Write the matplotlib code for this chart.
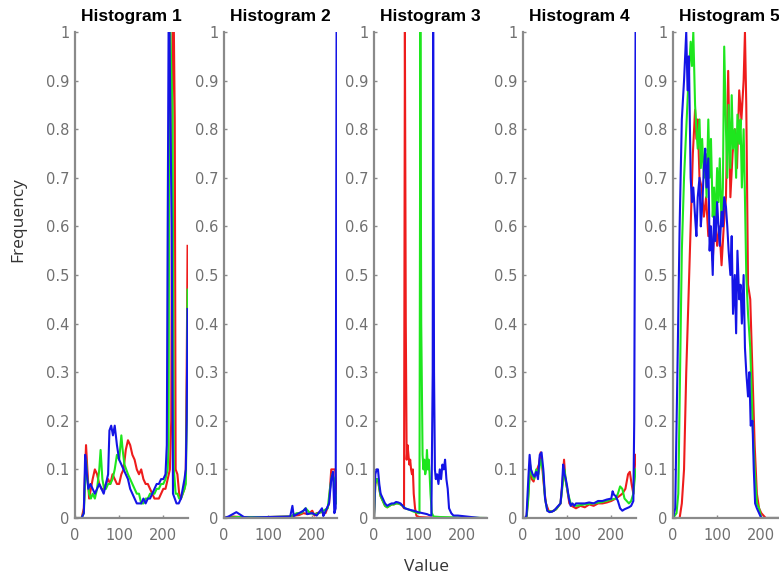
#! /usr/bin/env python3
import matplotlib
matplotlib.use("Agg")
import matplotlib.pyplot as plt

plt.rcParams['font.family'] = 'DejaVu Sans'

# ---- Histogram 1 ----
h1_r_x = [0, 15, 20, 25, 28, 32, 36, 40, 45, 50, 55, 60, 65, 70, 75, 80, 85, 90, 95, 100,
          105, 110, 115, 120, 125, 130, 135, 140, 145, 150, 155, 160, 165, 170, 175, 180, 185, 190, 195, 200,
          205, 210, 215, 218, 221, 224, 226, 228, 232, 236, 240, 244, 248, 251, 253, 255]
h1_r = [0, 0, 0.02, 0.15, 0.1, 0.04, 0.06, 0.08, 0.1, 0.09, 0.07, 0.06, 0.06, 0.07, 0.08, 0.07, 0.09, 0.08, 0.07, 0.07,
        0.09, 0.1, 0.14, 0.16, 0.15, 0.13, 0.12, 0.1, 0.09, 0.1, 0.08, 0.07, 0.07, 0.06, 0.05, 0.04, 0.04, 0.04, 0.05, 0.06,
        0.06, 0.08, 0.1, 0.2, 1.0, 1.0, 0.82, 0.1, 0.09, 0.05, 0.04, 0.05, 0.06, 0.1, 0.3, 0.56]
h1_g_x = [0, 15, 20, 25, 28, 32, 36, 40, 45, 50, 55, 58, 62, 66, 70, 75, 80, 85, 90, 95,
          100, 105, 108, 112, 116, 120, 125, 130, 135, 140, 145, 150, 155, 160, 165, 170, 175, 180, 185, 190,
          195, 200, 205, 210, 212, 214, 216, 218, 221, 224, 228, 232, 236, 240, 244, 248, 251, 253, 255]
h1_g = [0, 0, 0.01, 0.12, 0.08, 0.05, 0.04, 0.05, 0.04, 0.06, 0.1, 0.14, 0.08, 0.06, 0.06, 0.07, 0.07, 0.08, 0.1, 0.13,
        0.12, 0.17, 0.14, 0.11, 0.1, 0.09, 0.08, 0.07, 0.06, 0.05, 0.05, 0.03, 0.03, 0.04, 0.04, 0.05, 0.05, 0.05, 0.06, 0.06,
        0.07, 0.07, 0.08, 0.1, 0.15, 1.0, 1.0, 0.93, 0.84, 0.1, 0.05, 0.05, 0.04, 0.04, 0.05, 0.06, 0.07, 0.2, 0.47]
h1_b_x = [0, 15, 20, 23, 26, 30, 35, 40, 45, 50, 55, 60, 65, 70, 75, 78, 82, 86, 90, 95,
          100, 105, 110, 115, 120, 125, 130, 135, 140, 145, 150, 155, 160, 165, 170, 175, 180, 185, 190, 195,
          200, 205, 208, 210, 212, 214, 216, 219, 222, 226, 230, 235, 240, 244, 248, 251, 253, 255]
h1_b = [0, 0, 0.01, 0.13, 0.1, 0.06, 0.07, 0.06, 0.05, 0.06, 0.07, 0.06, 0.05, 0.07, 0.09, 0.18, 0.19, 0.17, 0.19, 0.15,
        0.12, 0.11, 0.1, 0.09, 0.08, 0.06, 0.05, 0.04, 0.03, 0.03, 0.03, 0.04, 0.03, 0.04, 0.04, 0.05, 0.06, 0.07, 0.07, 0.08,
        0.08, 0.09, 0.15, 0.6, 1.0, 1.0, 0.84, 0.6, 0.05, 0.04, 0.03, 0.03, 0.04, 0.06, 0.08, 0.1, 0.2, 0.43]

# ---- Histogram 2 ----
h2_r_x = [0, 20, 40, 100, 150, 160, 170, 180, 190, 200, 205, 210, 220, 230, 238, 243, 247, 252, 255]
h2_r = [0, 0.003, 0.002, 0.002, 0.003, 0.005, 0.006, 0.01, 0.008, 0.015, 0.005, 0.01, 0.012, 0.01, 0.03, 0.1, 0.1, 0.1, 0.05]
h2_g_x = [0, 30, 100, 150, 165, 175, 185, 195, 205, 215, 225, 235, 240, 245, 250, 255]
h2_g = [0, 0.002, 0.002, 0.003, 0.01, 0.01, 0.02, 0.01, 0.008, 0.01, 0.015, 0.02, 0.06, 0.09, 0.08, 0.03]
h2_b_x = [0, 10, 20, 28, 35, 45, 60, 100, 150, 155, 158, 170, 180, 185, 188, 200, 210, 222, 225, 228,
          238, 243, 247, 250, 253, 255]
h2_b = [0, 0.003, 0.008, 0.012, 0.008, 0.002, 0.001, 0.002, 0.003, 0.025, 0.004, 0.01, 0.015, 0.02, 0.008, 0.01, 0.005, 0.02, 0.004, 0.01,
        0.03, 0.08, 0.095, 0.01, 0.02, 1.0]

# ---- Histogram 3 ----
h3_r_x = [0, 3, 6, 9, 12, 15, 20, 25, 30, 35, 40, 45, 50, 55, 60, 65, 68, 70, 72, 74,
          76, 78, 80, 82, 84, 86, 88, 90, 93, 96, 100, 120, 160, 255]
h3_r = [0, 0.07, 0.08, 0.08, 0.06, 0.045, 0.035, 0.025, 0.022, 0.025, 0.028, 0.028, 0.03, 0.03, 0.028, 0.025, 0.02, 1.0, 0.4, 0.12,
        0.15, 0.13, 0.11, 0.12, 0.1, 0.09, 0.1, 0.05, 0.02, 0.005, 0.002, 0.001, 0, 0]
h3_g_x = [0, 3, 6, 9, 12, 15, 20, 25, 30, 35, 40, 45, 50, 55, 60, 65, 70, 80, 90, 100,
          103, 105, 107, 110, 112, 114, 116, 118, 120, 122, 124, 126, 128, 131, 135, 150, 200, 255]
h3_g = [0, 0.07, 0.08, 0.08, 0.06, 0.045, 0.035, 0.025, 0.022, 0.025, 0.028, 0.028, 0.03, 0.03, 0.028, 0.025, 0.02, 0.017, 0.013, 0.01,
        0.01, 1.0, 0.4, 0.13, 0.1, 0.12, 0.09, 0.1, 0.14, 0.1, 0.12, 0.09, 0.05, 0.01, 0.003, 0.002, 0.001, 0]
h3_b_x = [0, 3, 6, 9, 12, 15, 20, 25, 30, 35, 40, 45, 50, 55, 60, 65, 70, 80, 90, 100,
          110, 120, 125, 130, 133, 134, 136, 138, 140, 143, 146, 149, 152, 155, 158, 161, 164, 167, 170, 175,
          180, 190, 200, 210, 220, 230, 240, 255]
h3_b = [0, 0.09, 0.1, 0.1, 0.07, 0.05, 0.04, 0.03, 0.025, 0.028, 0.03, 0.03, 0.033, 0.032, 0.03, 0.025, 0.02, 0.017, 0.015, 0.012,
        0.01, 0.008, 0.006, 0.005, 0.3, 1.0, 0.3, 0.1, 0.08, 0.09, 0.07, 0.1, 0.08, 0.11, 0.1, 0.12, 0.08, 0.06, 0.02, 0.01,
        0.005, 0.005, 0.004, 0.003, 0.002, 0.001, 0, 0]

# ---- Histogram 4 ----
h4_r_x = [0, 8, 12, 16, 20, 24, 28, 32, 36, 40, 44, 48, 52, 58, 65, 75, 85, 90, 93, 96,
          100, 105, 110, 120, 130, 140, 150, 160, 170, 180, 190, 200, 210, 218, 225, 232, 238, 242, 246, 250,
          253, 255]
h4_r = [0, 0, 0.05, 0.1, 0.08, 0.075, 0.09, 0.1, 0.11, 0.135, 0.1, 0.06, 0.03, 0.015, 0.013, 0.018, 0.03, 0.08, 0.12, 0.08,
        0.06, 0.03, 0.025, 0.02, 0.025, 0.022, 0.028, 0.025, 0.03, 0.03, 0.032, 0.035, 0.04, 0.045, 0.05, 0.06, 0.09, 0.095, 0.07, 0.05,
        0.1, 0.13]
h4_g_x = [0, 8, 12, 16, 20, 25, 30, 35, 40, 45, 50, 55, 65, 75, 85, 90, 94, 98, 102, 108,
          120, 140, 160, 180, 200, 210, 215, 220, 225, 230, 235, 240, 245, 250, 255]
h4_g = [0, 0, 0.04, 0.11, 0.09, 0.08, 0.1, 0.09, 0.12, 0.1, 0.04, 0.015, 0.013, 0.018, 0.03, 0.07, 0.1, 0.07, 0.05, 0.03,
        0.025, 0.028, 0.03, 0.033, 0.038, 0.04, 0.05, 0.065, 0.06, 0.04, 0.035, 0.03, 0.035, 0.05, 0.1]
h4_b_x = [0, 5, 8, 12, 15, 18, 22, 26, 30, 34, 38, 42, 46, 50, 55, 60, 65, 70, 75, 80,
          85, 88, 91, 94, 97, 100, 104, 108, 112, 116, 120, 130, 140, 150, 160, 170, 180, 190, 200, 203,
          206, 210, 215, 220, 225, 230, 235, 240, 245, 250, 252, 255]
h4_b = [0, 0, 0.005, 0.08, 0.13, 0.1, 0.09, 0.085, 0.095, 0.08, 0.13, 0.135, 0.1, 0.04, 0.015, 0.012, 0.013, 0.015, 0.02, 0.025,
        0.03, 0.06, 0.11, 0.09, 0.08, 0.065, 0.04, 0.025, 0.03, 0.025, 0.03, 0.03, 0.03, 0.032, 0.03, 0.035, 0.035, 0.038, 0.04, 0.055,
        0.048, 0.045, 0.035, 0.02, 0.015, 0.018, 0.02, 0.022, 0.025, 0.035, 0.2, 1.0]

# ---- Histogram 5 ----
h5_r_x = [0, 15, 20, 25, 30, 35, 40, 45, 50, 53, 56, 60, 65, 70, 75, 80, 85, 90, 95, 100,
          105, 110, 115, 120, 125, 130, 135, 140, 145, 150, 155, 160, 163, 166, 170, 175, 180, 185, 190, 195,
          200, 210, 255]
h5_r = [0, 0, 0.03, 0.1, 0.3, 0.45, 0.6, 0.75, 0.84, 0.78, 0.82, 0.7, 0.68, 0.62, 0.66, 0.58, 0.6, 0.53, 0.62, 0.56,
        0.6, 0.52, 0.6, 0.66, 0.92, 0.66, 0.75, 0.8, 0.72, 0.88, 0.82, 0.9, 1.0, 0.85, 0.48, 0.45, 0.3, 0.15, 0.05, 0.02,
        0.01, 0, 0]
h5_g_x = [0, 8, 12, 16, 20, 25, 30, 35, 40, 43, 46, 50, 53, 56, 60, 63, 66, 70, 73, 76,
          80, 83, 86, 90, 93, 96, 100, 103, 106, 110, 113, 116, 120, 123, 126, 130, 133, 136, 140, 143,
          146, 150, 153, 156, 160, 163, 166, 170, 175, 180, 185, 190, 195, 200, 255]
h5_g = [0, 0.01, 0.05, 0.3, 0.55, 0.7, 0.8, 0.9, 0.98, 0.93, 1.0, 0.85, 0.8, 0.76, 0.82, 0.72, 0.78, 0.7, 0.75, 0.66,
        0.82, 0.7, 0.78, 0.62, 0.68, 0.6, 0.72, 0.65, 0.74, 0.6, 0.68, 0.97, 0.8, 0.7, 0.85, 0.72, 0.87, 0.76, 0.8, 0.7,
        0.83, 0.77, 0.82, 0.68, 0.8, 0.66, 0.5, 0.42, 0.35, 0.2, 0.1, 0.03, 0.02, 0, 0]
h5_b_x = [0, 5, 10, 15, 20, 25, 30, 33, 36, 40, 43, 46, 50, 53, 56, 60, 63, 66, 70, 73,
          76, 80, 83, 86, 90, 93, 96, 100, 103, 106, 110, 113, 116, 120, 123, 126, 130, 133, 136, 140,
          143, 146, 150, 153, 156, 160, 163, 166, 170, 173, 176, 180, 183, 186, 190, 195, 200, 210, 255]
h5_b = [0, 0.02, 0.3, 0.6, 0.82, 0.9, 1.0, 0.88, 0.95, 0.7, 0.65, 0.68, 0.62, 0.58, 0.66, 0.7, 0.6, 0.64, 0.72, 0.76,
        0.68, 0.74, 0.55, 0.6, 0.5, 0.62, 0.57, 0.65, 0.6, 0.56, 0.63, 0.6, 0.66, 0.64, 0.6, 0.55, 0.5, 0.58, 0.42, 0.5,
        0.38, 0.55, 0.45, 0.48, 0.4, 0.5, 0.35, 0.3, 0.25, 0.3, 0.19, 0.2, 0.1, 0.03, 0.02, 0.01, 0, 0, 0]

titles = ["Histogram 1", "Histogram 2", "Histogram 3", "Histogram 4", "Histogram 5"]
panels = [
    [(h1_r_x, h1_r), (h1_g_x, h1_g), (h1_b_x, h1_b)],
    [(h2_r_x, h2_r), (h2_g_x, h2_g), (h2_b_x, h2_b)],
    [(h3_r_x, h3_r), (h3_g_x, h3_g), (h3_b_x, h3_b)],
    [(h4_r_x, h4_r), (h4_g_x, h4_g), (h4_b_x, h4_b)],
    [(h5_r_x, h5_r), (h5_g_x, h5_g), (h5_b_x, h5_b)],
]
colors = ["#ee1c1c", "#1ee61e", "#1414e6"]
yticks = [0, 0.1, 0.2, 0.3, 0.4, 0.5, 0.6, 0.7, 0.8, 0.9, 1]
ytick_labels = ["0", "0.1", "0.2", "0.3", "0.4", "0.5", "0.6", "0.7", "0.8", "0.9", "1"]

W, H = 779, 581
fig = plt.figure(figsize=(W / 100, H / 100), dpi=100)

lefts = [75, 224, 374, 523, 673]
ax_w = 113
ax_top, ax_bot = 32, 518
axis_grey = "#8a8a8a"

for left, title, series in zip(lefts, titles, panels):
    ax = fig.add_axes([left / W, (H - ax_bot) / H, ax_w / W, (ax_bot - ax_top) / H])
    for (xs, ys), c in zip(series, colors):
        ax.plot(xs, ys, color=c, lw=1.5)
    ax.set_xlim(0, 256)
    ax.set_ylim(0, 1)
    ax.set_xticks([0, 100, 200])
    ax.set_yticks(yticks)
    ax.set_yticklabels(ytick_labels)
    for s in ["top", "right"]:
        ax.spines[s].set_visible(False)
    for s in ["left", "bottom"]:
        ax.spines[s].set_color(axis_grey)
        ax.spines[s].set_linewidth(1.6)
    ax.tick_params(direction="in", length=2.5, width=1, color=axis_grey,
                   labelcolor="#707070", labelsize=10.5)
    ax.tick_params(axis="x", pad=7)
    ax.tick_params(axis="y", pad=4)
    ax.set_title(title, fontsize=12.5, fontweight="bold", family="Liberation Sans", pad=8)

fig.text(18 / W, 1 - 220 / H, "Frequency", rotation=90, ha="center", va="center",
         fontsize=12.5, color="#333333", family="Open Sans")
fig.text(427 / W, 1 - 567 / H, "Value", ha="center", va="center",
         fontsize=12.5, color="#333333", family="Open Sans")

fig.savefig("out.png", dpi=100)
